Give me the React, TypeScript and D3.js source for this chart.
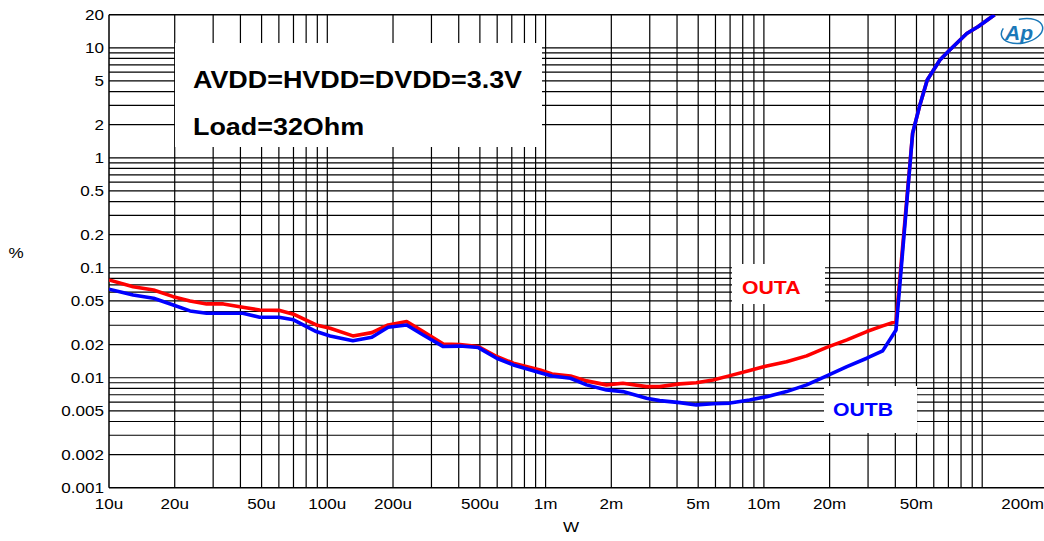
import React, { useEffect } from "react";
import * as d3 from "d3";

const xValues = [
  10e-6, 12.9e-6, 16e-6, 19.7e-6, 23.5e-6, 28e-6, 33.4e-6, 41e-6, 49e-6, 60e-6,
  70e-6, 89e-6, 103e-6, 131e-6, 160e-6, 190e-6, 231e-6, 275e-6, 340e-6, 405e-6,
  492e-6, 597e-6, 712e-6, 944e-6, 1.07e-3, 1.3e-3, 1.54e-3, 1.9e-3, 2.26e-3, 2.9e-3,
  3.33e-3, 4.12e-3, 4.9e-3, 5.85e-3, 7e-3, 8.6e-3, 10.3e-3, 12.7e-3, 15.7e-3, 19.4e-3,
  24e-3, 29.6e-3, 35e-3, 40.3e-3, 48e-3, 51.6e-3, 56e-3, 64e-3, 71e-3, 85e-3,
  96e-3, 114e-3,
];

const outA = [
  0.0775, 0.0673, 0.0628, 0.0546, 0.0499, 0.0469, 0.0469, 0.0438, 0.0413, 0.041,
  0.0378, 0.0302, 0.0282, 0.024, 0.0257, 0.0302, 0.0324, 0.0263, 0.0202, 0.02,
  0.0192, 0.0156, 0.01355, 0.01177, 0.01083, 0.01038, 0.00936, 0.00861, 0.0089, 0.0083,
  0.0083, 0.00879, 0.009, 0.00955, 0.01045, 0.01161, 0.0128, 0.014, 0.0158, 0.0189,
  0.0221, 0.0263, 0.0296, 0.0324, 1.67, 2.92, 5.1, 7.75, 9.55, 13.5,
  15.6, 20,
];

const outB = [
  0.0638, 0.0566, 0.0528, 0.0459, 0.0405, 0.0386, 0.0386, 0.0386, 0.0355, 0.0355,
  0.0336, 0.0263, 0.024, 0.0217, 0.0233, 0.0288, 0.0302, 0.0245, 0.0192, 0.0194,
  0.0188, 0.01504, 0.01307, 0.01112, 0.01038, 0.00989, 0.00861, 0.00775, 0.00748, 0.00651,
  0.00619, 0.00594, 0.00566, 0.0058, 0.00588, 0.00628, 0.00673, 0.00748, 0.00861, 0.01038,
  0.0126, 0.01504, 0.01754, 0.0272, 1.67, 2.92, 5.1, 7.75, 9.55, 13.5,
  15.6, 20,
];

const xTickValues = [10e-6, 20e-6, 50e-6, 100e-6, 200e-6, 500e-6, 1e-3, 2e-3, 5e-3, 10e-3, 20e-3, 50e-3, 200e-3];
const xTickLabels = ["10u", "20u", "50u", "100u", "200u", "500u", "1m", "2m", "5m", "10m", "20m", "50m", "200m"];
const yTickValues = [20, 10, 5, 2, 1, 0.5, 0.2, 0.1, 0.05, 0.02, 0.01, 0.005, 0.002, 0.001];
const yTickLabels = ["20", "10", "5", "2", "1", "0.5", "0.2", "0.1", "0.05", "0.02", "0.01", "0.005", "0.002", "0.001"];

const W = 1044;
const H = 541;
const left = 109;
const top = 14.7;
const bottom = 487.7;
const right = 109 + Math.log10(200e-3 / 10e-6) * 218.3;

type STProps = {
  x: number;
  y: number;
  sx: number;
  size: number;
  anchor?: "start" | "middle" | "end";
  weight?: string;
  fill?: string;
  dy?: string;
  children: React.ReactNode;
};

function ST({ x, y, sx, size, anchor = "start", weight = "normal", fill = "#000", dy, children }: STProps) {
  return (
    <text
      transform={`translate(${x},${y}) scale(${sx},1)`}
      x={0}
      y={0}
      dy={dy}
      fontSize={size}
      fontWeight={weight}
      textAnchor={anchor}
      fill={fill}
    >
      {children}
    </text>
  );
}

export default function App() {
  useEffect(() => {
    document.body.style.margin = "0";
  }, []);

  const x = d3.scaleLog().domain([10e-6, 200e-3]).range([left, right]);
  const y = d3.scaleLog().domain([0.001, 20]).range([bottom, top]);

  const vGrid: number[] = [];
  for (let e = -5; e <= -1; e++) {
    for (let m = 1; m <= 9; m++) {
      const v = m * Math.pow(10, e);
      if (v > 10e-6 * 1.0001 && v < 200e-3 * 0.9999) vGrid.push(v);
    }
  }
  const hGrid: number[] = [];
  for (let e = -3; e <= 1; e++) {
    for (let m = 1; m <= 9; m++) {
      const v = m * Math.pow(10, e);
      if (v > 0.001 * 1.0001 && v < 20 * 0.9999) hGrid.push(v);
    }
  }

  const line = d3
    .line<number>()
    .x((_, i) => x(xValues[i]))
    .y((d) => y(d));

  const font = "Arial, 'Liberation Sans', Helvetica, sans-serif";
  const tsx = 1.22;

  return (
    <svg
      width={W}
      height={H}
      style={{ position: "absolute", left: 0, top: 0, background: "#fff" }}
      fontFamily={font}
    >
      <defs>
        <clipPath id="plotClip">
          <rect x={left} y={top} width={right - left} height={bottom - top} />
        </clipPath>
      </defs>
      <rect x={0} y={0} width={W} height={H} fill="#fff" />
      <g>
        {vGrid.map((v, i) => (
          <line key={"v" + i} x1={x(v)} x2={x(v)} y1={top} y2={bottom} stroke="#000" strokeWidth={1.2} />
        ))}
        {hGrid.map((v, i) => (
          <line key={"h" + i} x1={left} x2={right} y1={y(v)} y2={y(v)} stroke="#000" strokeWidth={1.2} />
        ))}
        <line x1={left} x2={right} y1={top} y2={top} stroke="#000" strokeWidth={1.5} />
        <line x1={left} x2={right} y1={bottom} y2={bottom} stroke="#000" strokeWidth={1.5} />
        <line x1={left} x2={left} y1={top} y2={bottom} stroke="#000" strokeWidth={1.5} />
      </g>

      {/* annotation boxes */}
      <rect x={175} y={43} width={367} height={104} fill="#fff" />
      <rect x={732} y={264} width={93} height={40} fill="#fff" />
      <rect x={824} y={386} width={93} height={47} fill="#fff" />
      <rect x={994} y={16} width={50} height={30} fill="#fff" />

      <g clipPath="url(#plotClip)" fill="none" strokeLinejoin="round">
        <path d={line(outA) || ""} stroke="#ff0000" strokeWidth={3.6} />
        <path d={line(outB) || ""} stroke="#0000ff" strokeWidth={3.6} />
      </g>

      <ST x={193} y={88} sx={1.17} size={23} weight="bold">AVDD=HVDD=DVDD=3.3V</ST>
      <ST x={193} y={135} sx={1.17} size={23} weight="bold">Load=32Ohm</ST>
      <ST x={742} y={294} sx={1.18} size={18} weight="bold" fill="#ff0000">OUTA</ST>
      <ST x={833} y={416} sx={1.18} size={18} weight="bold" fill="#0000ff">OUTB</ST>

      {/* AP logo */}
      <g>
        <ellipse cx={1022} cy={31} rx={21} ry={12} fill="none" stroke="#1a78b8" strokeWidth={1.5} transform="rotate(-12 1022 31)" strokeDasharray="60 18" />
        <text x={1019} y={40} fontSize={21} fontWeight="bold" fontStyle="italic" fill="#1a78b8" textAnchor="middle">Ap</text>
      </g>

      {yTickValues.map((v, i) => (
        <ST key={"yt" + i} x={104} y={y(v)} dy="0.36em" size={14} sx={tsx} anchor="end">
          {yTickLabels[i]}
        </ST>
      ))}
      {xTickValues.map((v, i) => {
        const px = x(v);
        const last = i === xTickValues.length - 1;
        return (
          <ST key={"xt" + i} x={last ? 1044 : px} y={509} size={14} sx={tsx} anchor={last ? "end" : "middle"}>
            {xTickLabels[i]}
          </ST>
        );
      })}
      <ST x={16} y={258} size={14} sx={tsx} anchor="middle">%</ST>
      <ST x={571} y={532} size={14} sx={tsx} anchor="middle">W</ST>
    </svg>
  );
}
